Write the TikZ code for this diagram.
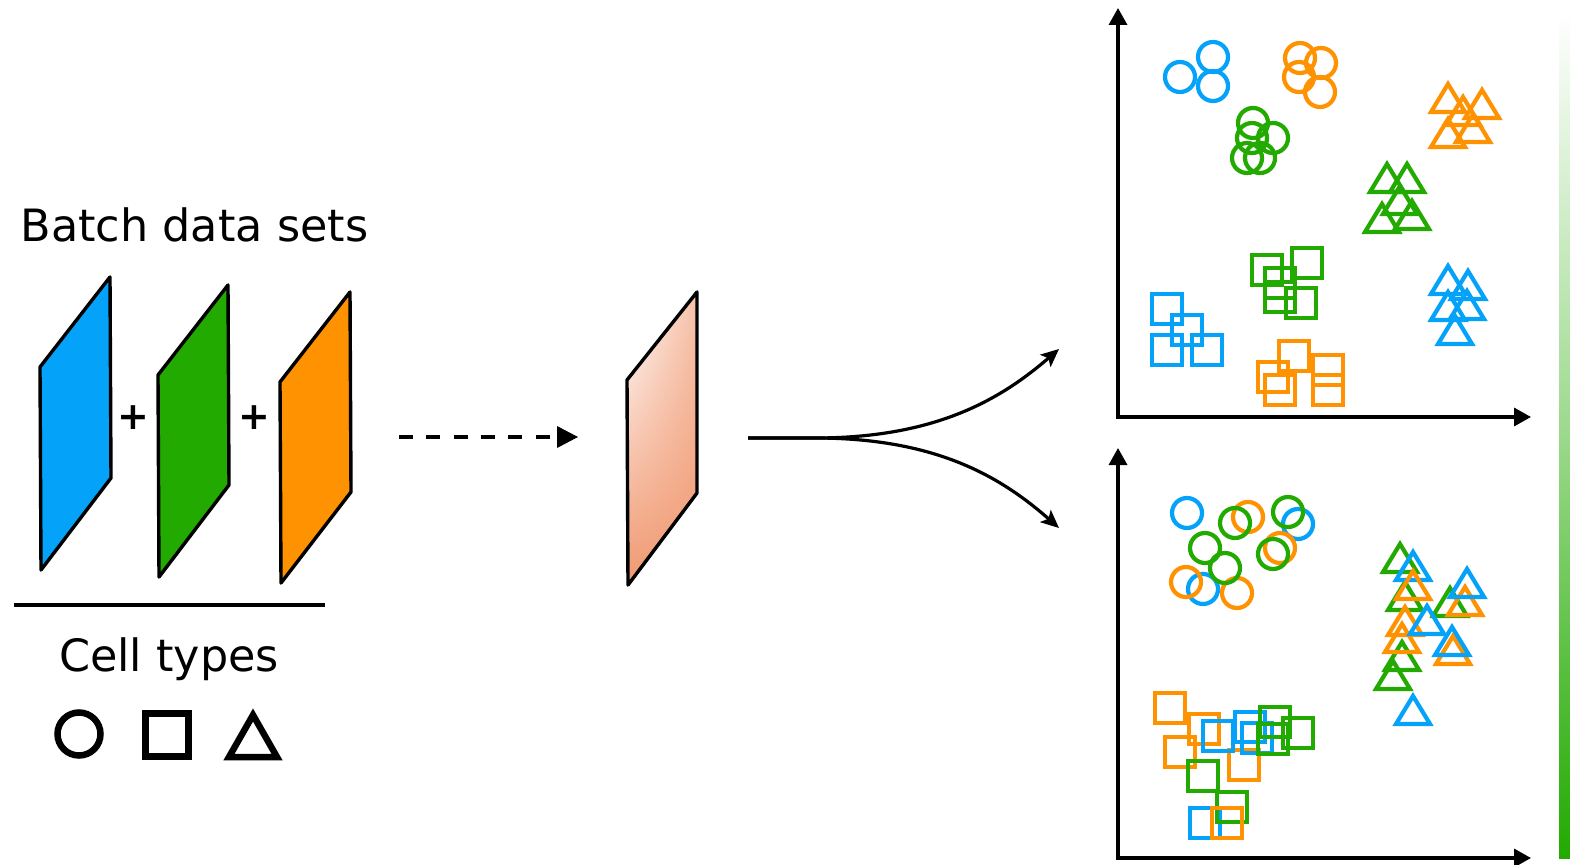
\documentclass[tikz,border=0pt]{standalone}
\usepackage{fontspec}
\setmainfont{DejaVu Sans}
\usetikzlibrary{arrows.meta,shadings,calc}
\definecolor{cblue}{RGB}{5,162,250}
\definecolor{cgreen}{RGB}{34,170,0}
\definecolor{corange}{RGB}{255,146,0}
\definecolor{csalmon}{RGB}{240,152,112}
\tikzset{
  x=1pt, y=-1pt,
  sheet/.style={draw=black, line width=3.4pt, line join=round},
  mk/.style={line width=4.2pt},
  legend/.style={draw=black, line width=6.5pt},
  axis/.style={line width=3.4pt, {Triangle[length=17pt,width=18pt]}-{Triangle[length=17pt,width=18pt]}},
  fork/.style={line width=3.2pt, -{Stealth[length=18pt,width=16pt,inset=4pt]}},
  bigtext/.style={font=\fontsize{44.5}{52}\selectfont, anchor=base, inner sep=0pt},
  plus/.style={font=\bfseries\fontsize{38}{40}\selectfont, inner sep=0pt},
}
\newcommand\mkc[3]{\draw[#1,mk] (#2,#3) circle[radius=15pt];}
\newcommand\mks[3]{\draw[#1,mk] ($(#2,#3)+(-15,-15)$) rectangle ++(30,30);}
\newcommand\mkt[3]{\draw[#1,mk] (#2,#3+4) -- ++(-17,28) -- ++(34,0) -- cycle;}
\begin{document}
\begin{tikzpicture}
\useasboundingbox (0,0) rectangle (1570,864);
\fill[white] (0,0) rectangle (1570,864);
% green bar
\shade[top color=white, bottom color=cgreen, middle color=cgreen!45!white] (1559,12) rectangle (1570,858);

% title
\node[bigtext] (title) at (194.5,241) {Batch data sets};

% batch sheets
\draw[sheet, fill=cblue] (40,367) coordinate (b1) -- (110,277) -- (111,478) -- (41,570) -- cycle;
\draw[sheet, fill=cgreen] (158,375) -- (228,285) -- (229,485) -- (159,577) -- cycle;
\draw[sheet, fill=corange] (280,382) -- (350,292) -- (351,492) -- (281,583) -- cycle;
\node[plus] (p1) at (133,418) {+};
\node[plus] (p2) at (254,418) {+};

% separator line
\draw[line width=4pt] (14,605) coordinate (l1) -- (325,605) coordinate (l2);
\node[bigtext] (cells) at (169,671) {Cell types};

% legend symbols
\draw[legend] (79,734) circle[radius=21.5pt];
\draw[legend] (145.5,713.5) rectangle (188.5,756.5);
\draw[legend, line join=miter] (253,715) -- (229,757) -- (277,757) -- cycle;

% dashed arrow
\coordinate (d1) at (399,437);
\coordinate (d2) at (578,437);
\draw[line width=4.5pt, dash pattern=on 14pt off 13.3pt] (d1) -- (557,437);
\fill (557,426) -- (d2) -- (557,448) -- cycle;

% merged sheet
\shade[upper left=white, upper right=csalmon!60!white, lower left=csalmon, lower right=csalmon]
  (627,380) -- (697,292) -- (697,493) -- (628,585) -- cycle;
\draw[sheet] (627,380) coordinate (m1) -- (697,292) -- (697,493) -- (628,585) -- cycle;

% fork
\coordinate (f0) at (748,438);
\coordinate (fu) at (1059,349);
\coordinate (fd) at (1059,528);
\draw[fork] (f0) -- (815,438) .. controls (935,438) and (1000,400) .. (fu);
\draw[fork] (f0) -- (815,438) .. controls (935,438) and (1000,476) .. (fd);

% axes
\draw[axis] (1118,8) coordinate (ya) -- (1118,417) coordinate (oa) -- (1531,417) coordinate (xa);
\draw[axis] (1118,448) coordinate (yb) -- (1118,858) coordinate (ob) -- (1531,858) coordinate (xb);

% ---- top plot ----
\mkc{cblue}{1180}{77}
\mkc{cblue}{1213}{57}
\mkc{cblue}{1213}{86}
\mkc{corange}{1300}{58}
\mkc{corange}{1321}{63}
\mkc{corange}{1299}{77}
\mkc{corange}{1320}{92}
\mkc{cgreen}{1253}{123}
\mkc{cgreen}{1273}{138}
\mkc{cgreen}{1252}{138}
\mkc{cgreen}{1247}{158}
\mkc{cgreen}{1260}{158}

\mks{cblue}{1167}{309}
\mks{cblue}{1187}{330}
\mks{cblue}{1167}{350}
\mks{cblue}{1207}{350}
\mks{cgreen}{1267}{270}
\mks{cgreen}{1307}{263}
\mks{cgreen}{1280}{283}
\mks{cgreen}{1280}{297}
\mks{cgreen}{1301}{303}
\mks{corange}{1294}{356}
\mks{corange}{1273}{377}
\mks{corange}{1280}{390}
\mks{corange}{1328}{370}
\mks{corange}{1328}{390}

\mkt{corange}{1448}{80}
\mkt{corange}{1482}{86}
\mkt{corange}{1463}{93}
\mkt{corange}{1448}{115}
\mkt{corange}{1473}{110}
\mkt{cgreen}{1387}{160}
\mkt{cgreen}{1407}{160}
\mkt{cgreen}{1400}{182}
\mkt{cgreen}{1382}{200}
\mkt{cgreen}{1412}{197}
\mkt{cblue}{1448}{262}
\mkt{cblue}{1468}{267}
\mkt{cblue}{1448}{288}
\mkt{cblue}{1467}{287}
\mkt{cblue}{1455}{312}

% ---- bottom plot ----
\mkc{cblue}{1187}{513}
\mkc{cblue}{1298}{524}
\mkc{cblue}{1203}{589}
\mkc{corange}{1248}{517}
\mkc{corange}{1280}{548}
\mkc{corange}{1186}{582}
\mkc{corange}{1237}{593}
\mkc{cgreen}{1235}{523}
\mkc{cgreen}{1288}{512}
\mkc{cgreen}{1205}{548}
\mkc{cgreen}{1273}{554}
\mkc{cgreen}{1225}{568}

\mks{corange}{1170}{708}
\mks{corange}{1204}{729}
\mks{corange}{1180}{752}
\mks{corange}{1244}{765}
\mks{cblue}{1218}{736}
\mks{cblue}{1250}{727}
\mks{cblue}{1257}{738}
\mks{cblue}{1205}{823}
\mks{cgreen}{1275}{722}
\mks{cgreen}{1273}{739}
\mks{cgreen}{1298}{733}
\mks{cgreen}{1203}{776}
\mks{cgreen}{1232}{807}
\mks{corange}{1227}{823}

\mkt{cgreen}{1400}{540}
\mkt{cgreen}{1405}{578}
\mkt{cgreen}{1402}{638}
\mkt{cgreen}{1393}{657}
\mkt{cgreen}{1450}{584}
\mkt{cblue}{1413}{548}
\mkt{corange}{1413}{567}
\mkt{corange}{1405}{603}
\mkt{corange}{1402}{620}
\mkt{corange}{1465}{583}
\mkt{cblue}{1467}{565}
\mkt{cblue}{1427}{602}
\mkt{corange}{1453}{632}
\mkt{cblue}{1452}{623}
\mkt{cblue}{1413}{692}
\end{tikzpicture}
\end{document}
